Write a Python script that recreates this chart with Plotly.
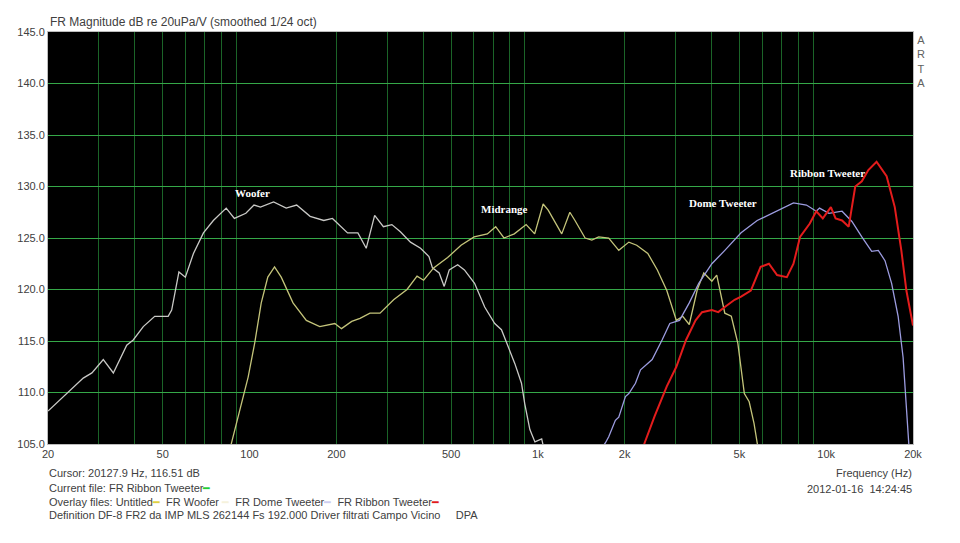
import numpy as np
import plotly.graph_objects as go

# ---------------- data ----------------
woofer_f = [20, 23.2, 26.5, 28.4, 31.1, 33.7, 37.5, 39.5, 42.8, 46.9, 52.2, 53.7, 56.9, 59.9,
            63.9, 69.2, 74.9, 83.0, 88.6, 97.1, 103.6, 109.1, 121.2, 134.0, 145.7, 162.2,
            181.0, 193.9, 218.8, 237.6, 248, 253.9, 271.6, 291.2, 311.6, 333.5, 361.5,
            391.8, 419.0, 430.9, 454.7, 473.3, 492.8, 527.0, 556.2, 603.2, 653.9, 708.6,
            747.7, 788.7, 832.1, 877.3, 900.6, 938.2, 976.7, 1031, 1060]
woofer_db = [108.2, 109.9, 111.4, 111.9, 113.2, 111.9, 114.6, 115.1, 116.4, 117.4, 117.4, 118.0,
             121.7, 121.2, 123.5, 125.5, 126.7, 127.9, 126.9, 127.4, 128.2, 128.0, 128.5,
             127.9, 128.2, 127.1, 126.7, 126.9, 125.5, 125.5, 124.6, 124.0, 127.2, 126.1,
             126.3, 125.6, 124.6, 124.0, 123.2, 122.1, 121.6, 120.3, 121.9, 122.4, 121.9,
             120.6, 118.3, 116.7, 116.1, 114.4, 112.8, 110.9, 108.9, 106.4, 105.2, 105.5, 104.0]

mid_f = [85.5, 92.6, 98.9, 104.2, 109.8, 115.7, 122.1, 128.8, 141.5, 157.4, 175.2, 197.6,
         208.4, 226.1, 241.6, 261.6, 283.5, 316.0, 351.7, 381.0, 401.6, 434.9, 486.4, 541.4,
         601.0, 668.0, 714.0, 762.9, 828.4, 910.6, 974.9, 1043, 1086, 1210, 1291, 1345, 1458,
         1539, 1625, 1761, 1908, 2068, 2202, 2406, 2596, 2800, 3022, 3180, 3350, 3573, 3763,
         4013, 4172, 4450, 4687, 4937, 5201, 5406, 5619, 5763, 5900]
mid_db = [104.5, 108.3, 111.5, 114.8, 118.7, 121.2, 122.2, 121.2, 118.7, 117.0, 116.4, 116.7,
          116.2, 116.9, 117.2, 117.7, 117.7, 119.0, 120.0, 121.3, 120.9, 122.1, 123.1, 124.3,
          125.1, 125.4, 126.1, 125.0, 125.4, 126.3, 125.4, 128.3, 127.7, 125.4, 127.5, 126.7,
          125.0, 124.8, 125.1, 125.0, 123.8, 124.6, 124.3, 123.5, 121.9, 119.9, 117.0, 117.4,
          116.6, 120.0, 121.6, 120.8, 121.4, 117.7, 117.4, 114.8, 109.9, 109.1, 107.0, 105.1, 103.5]

dome_f = [1605, 1714, 1761, 1857, 1908, 2012, 2068, 2180, 2270, 2491, 2696, 2868, 3099, 3350,
          3614, 4013, 4450, 5067, 5763, 6755, 7701, 8540, 9236, 9480, 10220, 11350, 12280,
          13290, 14380, 15160, 15990, 16860, 17760, 18480, 18970, 19200, 19500]
dome_db = [104.0, 105.1, 105.7, 107.3, 107.6, 109.6, 109.9, 110.9, 112.2, 113.2, 115.1, 116.7,
           117.0, 118.7, 120.6, 122.5, 123.8, 125.5, 126.7, 127.6, 128.4, 128.2, 127.6, 127.9,
           127.4, 127.6, 126.6, 125.1, 123.7, 123.8, 122.8, 120.6, 117.4, 113.4, 108.6, 106.0, 103.5]

ribbon_f = [2250, 2345, 2541, 2800, 3022, 3265, 3523, 3710, 4013, 4223, 4450, 4811, 5067, 5478,
            5924, 6330, 6755, 7303, 7701, 8115, 8772, 9236, 9734, 10380, 10780, 11350, 11970,
            12610, 13290, 14000, 14950, 16200, 17290, 18220, 18970, 20000]
ribbon_db = [103.5, 105.1, 107.7, 110.6, 112.5, 115.1, 117.0, 117.8, 118.0, 117.8, 118.3, 119.0,
             119.3, 119.9, 122.2, 122.5, 121.4, 121.2, 122.5, 125.1, 126.4, 127.6, 126.9, 128.0,
             126.9, 126.7, 126.1, 130.0, 130.5, 131.6, 132.4, 131.0, 128.0, 123.8, 119.9, 116.5]

x_tick_vals = [20, 50, 100, 200, 500, 1000, 2000, 5000, 10000, 20000]
x_tick_text = ["20", "50", "100", "200", "500", "1k", "2k", "5k", "10k", "20k"]
x_minor_vals = [30, 40, 60, 70, 80, 90, 300, 400, 600, 700, 800, 900,
                3000, 4000, 6000, 7000, 8000, 9000]
x_major_vals = [100, 1000, 10000]
y_tick_vals = [105, 110, 115, 120, 125, 130, 135, 140, 145]

label_text = ["Woofer", "Midrange", "Dome Tweeter", "Ribbon Tweeter"]
label_freq = [102, 763, 4372, 10070]
label_db = [129.4, 127.8, 128.4, 131.3]

# ---------------- styling ----------------
GRID_DIM = "#1b6428"
GRID_BRIGHT = "#35a848"
TXT = "#404040"
FONT = "Liberation Sans, Arial, sans-serif"

fig = go.Figure()
fig.add_trace(go.Scatter(x=woofer_f, y=woofer_db, mode="lines", name="FR Woofer",
                         line=dict(color="#c9c9c6", width=1.3)))
fig.add_trace(go.Scatter(x=mid_f, y=mid_db, mode="lines", name="Untitled",
                         line=dict(color="#c4c47a", width=1.3)))
fig.add_trace(go.Scatter(x=dome_f, y=dome_db, mode="lines", name="FR Dome Tweeter",
                         line=dict(color="#9c9ce0", width=1.3)))
fig.add_trace(go.Scatter(x=ribbon_f, y=ribbon_db, mode="lines", name="FR Ribbon Tweeter",
                         line=dict(color="#e41c1c", width=2)))

xr = [np.log10(20), np.log10(20000)]
dim_vals = [v for v in x_tick_vals if v not in x_major_vals]
fig.update_layout(
    width=960, height=543,
    margin=dict(l=48, r=47, t=32, b=99),
    paper_bgcolor="white", plot_bgcolor="black",
    showlegend=False, hovermode=False,
    font=dict(family=FONT, size=11, color=TXT),
    xaxis=dict(type="log", range=xr, tickvals=x_tick_vals, ticktext=x_tick_text,
               showgrid=False,
               minor=dict(tickvals=x_minor_vals + dim_vals, showgrid=True,
                          gridcolor=GRID_DIM, gridwidth=1, ticklen=0),
               ticks="", showline=True, linecolor="#bdbdbd", mirror=True,
               zeroline=False, tickfont=dict(size=11, color=TXT)),
    yaxis=dict(range=[105, 145], tickvals=y_tick_vals, tickformat=".1f",
               showgrid=True, gridcolor=GRID_BRIGHT, gridwidth=1, ticks="",
               showline=True, linecolor="#bdbdbd", mirror=True, zeroline=False,
               tickfont=dict(size=11, color=TXT)),
)

# brighter decade lines (100 Hz, 1 kHz, 10 kHz)
for v in x_major_vals:
    fig.add_shape(type="line", xref="x", yref="paper", x0=np.log10(v), x1=np.log10(v),
                  y0=0, y1=1, layer="below", line=dict(color=GRID_BRIGHT, width=1))

# curve labels
for t, f, d in zip(label_text, label_freq, label_db):
    fig.add_annotation(x=np.log10(f), y=d, xref="x", yref="y", text="<b>" + t + "</b>",
                       showarrow=False, font=dict(family="Liberation Serif, Times New Roman, serif",
                                                  size=11, color="white"))

# page text (pixel positions converted to paper coordinates)
L, R, T, B = 48, 913, 32, 444


def px(x):
    return (x - L) / (R - L)


def py(y):
    return (B - y) / (B - T)


def note(text, x, y, anchor="left", size=11):
    fig.add_annotation(x=px(x), y=py(y), xref="paper", yref="paper", text=text,
                       showarrow=False, xanchor=anchor, yanchor="middle",
                       font=dict(family=FONT, size=size, color=TXT))


def dash(color):
    return '<span style="color:%s">━</span>' % color


note("FR Magnitude dB re 20uPa/V (smoothed 1/24 oct)", 48, 22, size=12)
note("Cursor: 20127.9 Hz, 116.51 dB", 47, 473)
note("Current file: FR Ribbon Tweeter" + dash("#22cc33"), 47, 488)
note("Overlay files: Untitled" + dash("#e0d040") + "  FR Woofer " + dash("#f6f2dc")
     + "  FR Dome Tweeter" + dash("#cccdf0") + "  FR Ribbon Tweeter" + dash("#e01c1c"), 47, 502)
note("Definition DF-8 FR2 da IMP MLS 262144 Fs 192.000 Driver filtrati Campo Vicino"
     "&nbsp;&nbsp;&nbsp;&nbsp;&nbsp;DPA", 47, 515)
note("Frequency (Hz)", 914, 473, anchor="right")
note("2012-01-16&nbsp;&nbsp;14:24:45", 914, 489, anchor="right")
fig.add_annotation(x=px(921), y=py(32), xref="paper", yref="paper",
                   text="A<br>R<br>T<br>A", showarrow=False, xanchor="center", yanchor="top",
                   align="center", font=dict(family=FONT, size=11, color="#606060"))

fig.write_html("out.html", config={"displayModeBar": False, "staticPlot": True},
               post_script="document.body.style.margin='0px';document.body.style.overflow='hidden';")
